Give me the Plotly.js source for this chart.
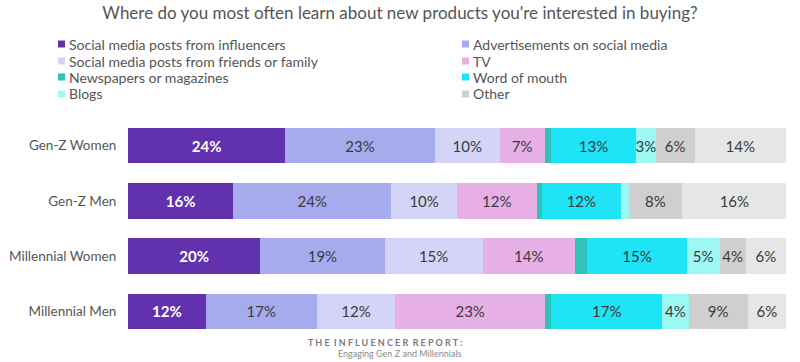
<!DOCTYPE html>
<html>
<head>
<meta charset="utf-8">
<script src="https://cdn.plot.ly/plotly-3.0.1.min.js"></script>
<style>html,body{margin:0;padding:0;background:#fff;}#chart{width:800px;height:362px;}</style>
</head>
<body>
<div id="chart"></div>
<script>
var categories = ["Gen-Z Women", "Gen-Z Men", "Millennial Women", "Millennial Men"];
var seriesNames = [
  "Social media posts from influencers",
  "Advertisements on social media",
  "Social media posts from friends or family",
  "TV",
  "Newspapers or magazines",
  "Word of mouth",
  "Blogs",
  "Other",
  "None"
];
var influencers = [23.9, 16.0, 20.1, 11.8];
var adsSocial   = [22.7, 24.0, 18.9, 16.9];
var friends     = [9.9, 10.0, 14.9, 11.9];
var tv          = [6.8, 12.1, 14.0, 22.8];
var newspapers  = [1.0, 0.8, 1.9, 0.9];
var wordOfMouth = [12.9, 12.0, 15.1, 16.9];
var blogs       = [3.0, 1.2, 5.0, 4.0];
var other       = [5.9, 8.1, 4.0, 9.0];
var noneSeries  = [13.9, 15.9, 6.1, 5.8];
var inLegend    = [true, true, true, true, true, true, true, true, false];

var seriesValues = [influencers, adsSocial, friends, tv, newspapers, wordOfMouth, blogs, other, noneSeries];
var colors = ["#6131ae", "#a6abee", "#d3d4f7", "#e6b0e7", "#31c3b7", "#1fe3f6", "#9df8f4", "#cfcfcf", "#e6e6e6"];
var textColors = ["#ffffff", "#3a3a3a", "#3a3a3a", "#3a3a3a", "#3a3a3a", "#3a3a3a", "#3a3a3a", "#3a3a3a", "#3a3a3a"];

var FONT = "Lato, 'Open Sans', sans-serif";

var traces = seriesValues.map(function (vals, i) {
  return {
    type: "bar",
    orientation: "h",
    name: seriesNames[i],
    y: categories,
    x: vals,
    text: vals.map(function (v) { return v >= 2.5 ? Math.round(v) + "%" : ""; }),
    textposition: "inside",
    insidetextanchor: "middle",
    textangle: 0,
    textfont: { family: FONT, size: 15, color: textColors[i], weight: i === 0 ? 700 : 400 },
    marker: { color: colors[i], line: { width: 0 } },
    showlegend: false,
    hoverinfo: "skip"
  };
});

// custom two-column legend built from series names/colors
var shapes = [];
var annotations = [];
var legendX = [58, 462];
var legendY = [44, 61, 77, 94];
seriesNames.forEach(function (name, i) {
  if (!inLegend[i]) return;
  var col = i % 2, row = Math.floor(i / 2);
  var x0 = legendX[col], yc = legendY[row];
  shapes.push({
    type: "rect", xref: "paper", yref: "paper", layer: "above",
    x0: 0, x1: 0, y0: 0, y1: 0,
    _px: [x0, x0 + 7, yc - 3.5, yc + 3.5],
    fillcolor: colors[i], line: { width: 0 }
  });
  annotations.push({
    xref: "paper", yref: "paper", showarrow: false,
    xanchor: "left", yanchor: "middle",
    _px: [x0 + 9, yc],
    text: name,
    font: { family: FONT, size: 14, color: "#555555" }
  });
});

var margin = { l: 128, r: 14, t: 118, b: 23 };
var W = 800, H = 362;
var pw = W - margin.l - margin.r, ph = H - margin.t - margin.b;
function px2x(px) { return (px - margin.l) / pw; }
function px2y(py) { return (H - margin.b - py) / ph; }

shapes.forEach(function (s) {
  s.x0 = px2x(s._px[0]); s.x1 = px2x(s._px[1]);
  s.y0 = px2y(s._px[3]); s.y1 = px2y(s._px[2]);
  delete s._px;
});
annotations.forEach(function (a) {
  a.x = px2x(a._px[0]); a.y = px2y(a._px[1]);
  delete a._px;
});

// report credit
annotations.push({
  xref: "paper", yref: "paper", showarrow: false, xanchor: "right", yanchor: "middle",
  x: px2x(464), y: px2y(342),
  text: "T H E  I N F L U E N C E R  R E P O R T :",
  font: { family: FONT, size: 9, color: "#7a7a7a", weight: 700 }
});
annotations.push({
  xref: "paper", yref: "paper", showarrow: false, xanchor: "right", yanchor: "middle",
  x: px2x(464), y: px2y(353),
  text: "Engaging Gen Z and Millennials",
  font: { family: FONT, size: 9, color: "#8a8a8a" }
});

var layout = {
  width: W, height: H,
  margin: margin,
  paper_bgcolor: "#ffffff",
  plot_bgcolor: "#ffffff",
  barmode: "stack",
  bargap: 0.36,
  showlegend: false,
  title: {
    text: "Where do you most often learn about new products you're interested in buying?",
    x: 0.5, xref: "container", xanchor: "center",
    y: 1 - 13 / H, yref: "container", yanchor: "middle",
    font: { family: FONT, size: 17, color: "#555555" }
  },
  xaxis: {
    range: [0, 100],
    showgrid: false, zeroline: false, showticklabels: false, showline: false, fixedrange: true
  },
  yaxis: {
    autorange: "reversed",
    showgrid: false, zeroline: false, showline: false,
    ticks: "outside", ticklen: 8, tickcolor: "rgba(0,0,0,0)",
    tickfont: { family: FONT, size: 13.5, color: "#555555" }
  },
  uniformtext: { mode: "show", minsize: 15 },
  shapes: shapes,
  annotations: annotations
};

Plotly.newPlot("chart", traces, layout, { displayModeBar: false, staticPlot: true });
</script>
</body>
</html>
